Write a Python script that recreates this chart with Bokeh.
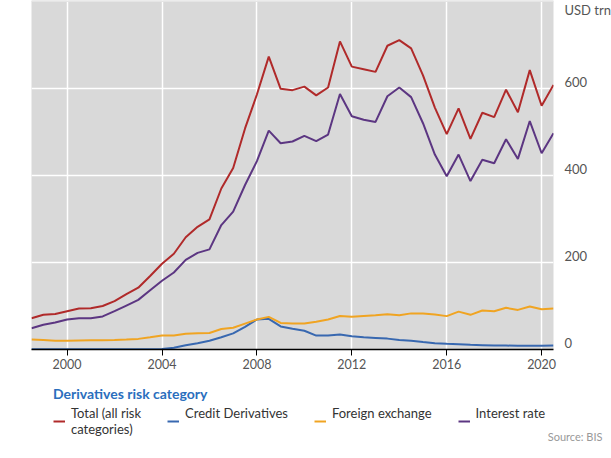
from bokeh.plotting import figure
from bokeh.layouts import column
from bokeh.models import Range1d, FixedTicker, LinearAxis, Grid, Legend, LegendItem, Label
from bokeh.embed import file_html
from bokeh.resources import INLINE

# Half-yearly observations (end-June = .5, end-December = next year .0)
periods = [1998.5, 1999.0, 1999.5, 2000.0, 2000.5, 2001.0, 2001.5, 2002.0, 2002.5,
           2003.0, 2003.5, 2004.0, 2004.5, 2005.0, 2005.5, 2006.0, 2006.5, 2007.0,
           2007.5, 2008.0, 2008.5, 2009.0, 2009.5, 2010.0, 2010.5, 2011.0, 2011.5,
           2012.0, 2012.5, 2013.0, 2013.5, 2014.0, 2014.5, 2015.0, 2015.5, 2016.0,
           2016.5, 2017.0, 2017.5, 2018.0, 2018.5, 2019.0, 2019.5, 2020.0, 2020.5]

total = [72, 80, 81.5, 88, 94, 95, 100, 111, 127, 142, 169, 197, 220, 258, 282, 299,
         370, 417, 508, 586, 673, 599, 596, 604, 584, 602, 708, 650, 644, 638, 698,
         711, 692, 630, 556, 495, 554, 484, 544, 534, 597, 545, 642, 560, 608]

credit = [0.5, 0.5, 0.5, 0.5, 0.5, 0.5, 0.5, 0.5, 0.5, 0.5, 0.5, 1, 4, 10, 14.5, 20,
          28, 37, 52, 69, 70.5, 53, 47.5, 43, 32, 32, 34.5, 30.5, 28, 26.5, 25, 22,
          20, 17, 14.5, 13, 12, 10.7, 10, 9, 9, 8.5, 8.5, 8.5, 9]

fx = [23, 22, 20, 20, 20.7, 21.4, 21.4, 22, 23, 24.4, 28, 32, 32, 36, 37.5, 38, 47,
      50, 59.5, 69, 75, 61, 59.5, 59.5, 64, 69, 77, 75, 77, 78.5, 81, 78.5, 83, 83,
      80.5, 76.7, 87, 79.7, 89.7, 88, 95.8, 91, 98.9, 92.7, 94]

interest = [48.7, 57, 62, 69, 72, 72, 76, 88, 101, 114, 136, 158, 177, 206, 222, 230,
            286, 317, 378, 433, 503, 474, 478, 491, 479, 494, 587, 536, 528, 523, 582,
            602, 580, 520, 448, 398, 448, 387, 436, 428, 483, 438, 525, 451, 497]

x_ticks = [2000, 2004, 2008, 2012, 2016, 2020]
y_ticks = [0, 200, 400, 600]
unit_label = "USD trn"
legend_title = "Derivatives risk category"
# one-line labels get an invisible second line so every label starts on the same row
series_names = ["Total (all risk\ncategories)", "Credit Derivatives\n\u00a0",
                "Foreign exchange\n\u00a0", "Interest rate\n\u00a0"]
source_text = "Source: BIS"

FONT = "Lato"
colors = ["#b02a2a", "#3868b0", "#f0a422", "#5c3682"]

Y_TOP = 802
p = figure(frame_width=522, frame_height=349,
           x_range=Range1d(1998.5, 2020.5), y_range=Range1d(0, Y_TOP),
           y_axis_location=None, output_backend="svg", toolbar_location=None,
           min_border_left=31, min_border_right=50, min_border_top=0,
           min_border_bottom=26, background_fill_color="#d9d9d9",
           border_fill_color="white", outline_line_color=None)
p.frame_align = False

# grid
p.xgrid.ticker = FixedTicker(ticks=x_ticks)
p.xgrid.grid_line_color = "white"
p.xgrid.grid_line_width = 1.5
ygrid = Grid(dimension=1, ticker=FixedTicker(ticks=y_ticks),
             grid_line_color="white", grid_line_width=1.5)
p.add_layout(ygrid)

# x axis
xa = p.xaxis[0]
xa.ticker = FixedTicker(ticks=x_ticks)
xa.axis_line_color = "black"
xa.axis_line_width = 1.5
xa.major_tick_line_color = "black"
xa.major_tick_in = 0
xa.major_tick_out = 6
xa.minor_tick_line_color = None
xa.major_label_text_font = FONT
xa.major_label_text_font_size = "12.5px"
xa.major_label_text_color = "#555555"
xa.major_label_standoff = 3

# right axis: labels sit just above their gridlines; the unit sits at the top
LABEL_SHIFT = 13.8
UNIT_POS = 765.6
p.extra_y_ranges = {"labels": Range1d(-LABEL_SHIFT, Y_TOP - LABEL_SHIFT)}
ya = LinearAxis(y_range_name="labels", ticker=FixedTicker(ticks=y_ticks + [UNIT_POS]))
ya.major_label_overrides = {UNIT_POS: unit_label}
ya.axis_line_color = None
ya.major_tick_line_color = None
ya.minor_tick_line_color = None
ya.major_label_text_font = FONT
ya.major_label_text_font_size = "13px"
ya.major_label_text_color = "#555555"
ya.major_label_standoff = 5
p.add_layout(ya, "right")

series = [total, credit, fx, interest]
for vals, c in zip(series, colors):
    p.line(periods, vals, line_color=c, line_width=2)

# legend + source strip (ranges in pixel units; the series sit outside its view
# and only lend their line style to the legend swatches)
LEFT2, TOP2, H2 = 53, 10, 67
LW, LH = 550, H2 - TOP2
p2 = figure(width=LEFT2 + LW, height=H2, x_range=Range1d(0, LW), y_range=Range1d(0, LH),
            x_axis_location=None, y_axis_location=None,
            output_backend="svg", toolbar_location=None,
            min_border_left=LEFT2, min_border_right=0, min_border_top=TOP2,
            min_border_bottom=0, outline_line_color=None,
            background_fill_color="white", border_fill_color="white")
p2.frame_align = False
p2.xgrid.visible = False
p2.ygrid.visible = False
swatches = [p2.line(periods, vals, line_color=c, line_width=2)
            for vals, c in zip(series, colors)]

legend = Legend(items=[LegendItem(label=n, renderers=[r]) for n, r in zip(series_names, swatches)],
                orientation="horizontal", title=legend_title, location="top_left",
                title_text_font=FONT, title_text_font_size="14px",
                title_text_font_style="bold", title_text_color="#2a6ebd",
                title_standoff=3,
                label_text_font=FONT, label_text_font_size="13px",
                label_text_color="#333333", glyph_width=12, glyph_height=16,
                label_height=16,
                label_standoff=6, spacing=26, padding=0, margin=0,
                border_line_color=None, background_fill_alpha=0)
p2.add_layout(legend)

p2.add_layout(Label(x=LW - 1, y=6, text=source_text, text_font=FONT,
                    text_font_size="11px", text_color="#999999",
                    text_align="right", text_baseline="middle"))

open("out.html", "w").write(file_html(column(p, p2, spacing=0), INLINE))
